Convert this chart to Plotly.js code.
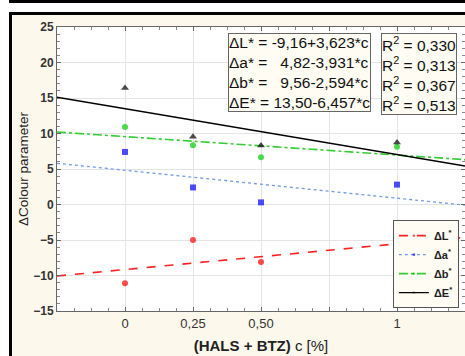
<!DOCTYPE html>
<html>
<head>
<meta charset="utf-8">
<script src="https://cdn.plot.ly/plotly-3.0.1.min.js"></script>
<style>
  html, body { margin:0; padding:0; background:#ffffff; width:465px; height:356px; overflow:hidden; }
  #topbar { position:absolute; left:9px; top:0px; width:456px; height:3px; background:#000; }
  #frame { position:absolute; left:9px; top:12px; width:456px; height:344px; border-top:3px solid #000; border-left:3px solid #000; box-sizing:border-box; }
  #chart { position:absolute; left:12px; top:15px; width:453px; height:341px; }
</style>
</head>
<body>
<div id="topbar"></div>
<div id="frame"></div>
<div id="chart"></div>
<script>
// ---- data ----
const conc = [0, 0.25, 0.50, 1];
const dL = [-11.1, -5.0, -8.1, -5.8];
const da = [7.4, 2.4, 0.3, 2.8];
const db = [10.9, 8.35, 6.65, 8.15];
const dE = [16.4, 9.55, 8.3, 8.75];

// regression coefficients shown in the chart (intercept, slope)
const seriesNames = ["ΔL<sup>*</sup>", "Δa<sup>*</sup>", "Δb<sup>*</sup>", "ΔE<sup>*</sup>"];
const intercepts = [-9.16, 4.82, 9.56, 13.50];
const slopes = [3.623, -3.931, -2.594, -6.457];
const r2 = ["0,330", "0,313", "0,367", "0,513"];
const eqText = ["ΔL* = -9,16+3,623*c", "Δa* =\u00A0\u00A0 4,82-3,931*c", "Δb* =\u00A0\u00A0 9,56-2,594*c", "ΔE* = 13,50-6,457*c"];

const xTickVals = [0, 0.25, 0.5, 0.75, 1];
const xTickText = ["0", "0,25", "0,50", "", "1"];
const xRange = [-0.25, 1.25];

const colors = ["#ff0000", "#0000ff", "#00cc00", "#000000"];
const lineColors = ["#ff2020", "#6f9be8", "#33cc33", "#000000"];
const dashes = ["dash", "dot", "dashdot", "solid"];
const lineWidths = [1.6, 1.3, 1.6, 1.4];
const symbols = ["circle", "square", "circle", "triangle-up"];
const sizes = [6, 6, 6, 7];
const allY = [dL, da, db, dE];

const traces = allY.map((ys, i) => {
  const x = [], y = [], s = [];
  conc.forEach((c, j) => { x.push(c, null); y.push(ys[j], null); s.push(sizes[i], 0); });
  x.push(xRange[0], xRange[1]);
  y.push(intercepts[i] + slopes[i] * xRange[0], intercepts[i] + slopes[i] * xRange[1]);
  s.push(0, 0);
  return {
    x: x, y: y, type: "scatter", mode: "lines+markers", name: seriesNames[i],
    connectgaps: false,
    line: { color: lineColors[i], dash: dashes[i], width: lineWidths[i] },
    marker: { color: colors[i], symbol: symbols[i], size: s, line: { width: 0 } },
    hoverinfo: "skip"
  };
});

const cream = "#fdf8ec";
const boxBg = "#fffcf3";
const layout = {
  width: 453, height: 341,
  margin: { l: 45, r: 0, t: 12, b: 45 },
  paper_bgcolor: cream,
  plot_bgcolor: "#ffffff",
  font: { family: "Arial, 'Liberation Sans', sans-serif", color: "#333" },
  showlegend: true,
  legend: {
    x: 0.985, xanchor: "right", y: 0.01, yanchor: "bottom",
    bgcolor: boxBg, bordercolor: "#555", borderwidth: 1,
    font: { size: 11, color: "#222", family: "Arial, 'Liberation Sans', sans-serif", weight: "bold" },
    itemwidth: 30, tracegroupgap: 0
  },
  xaxis: {
    range: xRange, tickvals: xTickVals, ticktext: xTickText,
    showgrid: true, gridcolor: "#e4e4e4", gridwidth: 1,
    zeroline: false, showline: true, linecolor: "#666", linewidth: 1, mirror: "ticks",
    ticks: "inside", ticklen: 4, tickcolor: "#666",
    minor: { dtick: 0.0625, tick0: 0, ticks: "inside", ticklen: 3, tickcolor: "#888", showgrid: false },
    tickfont: { size: 13, color: "#333" },
    title: { text: "<b>(HALS + BTZ)</b> c [%]", font: { size: 15, color: "#222" }, standoff: 10 },
    automargin: false
  },
  yaxis: {
    range: [-15, 25], dtick: 5, tick0: 0,
    showgrid: true, gridcolor: "#e4e4e4", gridwidth: 1,
    zeroline: false, showline: true, linecolor: "#666", linewidth: 1, mirror: "ticks",
    ticks: "inside", ticklen: 4, tickcolor: "#666",
    minor: { dtick: 1, ticks: "inside", ticklen: 3, tickcolor: "#888", showgrid: false },
    tickfont: { size: 12, color: "#333", weight: "bold" },
    title: { text: "ΔColour parameter", font: { size: 13.5, color: "#222" }, standoff: 1 },
    automargin: false
  },
  annotations: [
    {
      xref: "paper", yref: "paper", x: (228 - 57) / 408, y: 1 - (32 - 26.5) / 284,
      xanchor: "left", yanchor: "top", align: "left", showarrow: false,
      text: eqText.join("<br>"),
      font: { size: 15.5, color: "#111" },
      bgcolor: boxBg, bordercolor: "#666", borderwidth: 1, borderpad: 0
    },
    {
      xref: "paper", yref: "paper", x: (381 - 57) / 408, y: 1 - (32 - 26.5) / 284,
      xanchor: "left", yanchor: "top", align: "left", showarrow: false,
      text: r2.map(v => "R<sup>2</sup> = " + v).join("<br>"),
      font: { size: 15.5, color: "#111" },
      bgcolor: boxBg, bordercolor: "#666", borderwidth: 1, borderpad: 0
    }
  ]
};

Plotly.newPlot("chart", traces, layout, { staticPlot: true, displayModeBar: false });
</script>
</body>
</html>
